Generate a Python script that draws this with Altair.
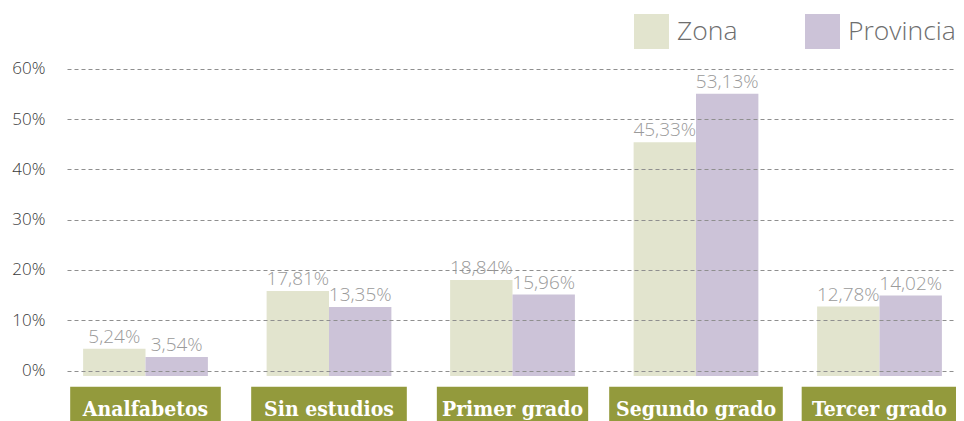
import altair as alt
import pandas as pd

# ---- data ----
categories = ["Analfabetos", "Sin estudios", "Primer grado", "Segundo grado", "Tercer grado"]
series = ["Zona", "Provincia"]
zona_labels = ["5,24%", "17,81%", "18,84%", "45,33%", "12,78%"]
prov_labels = ["3,54%", "13,35%", "15,96%", "53,13%", "14,02%"]
# bar heights as drawn in the picture (percent)
zona_bars = [4.3, 15.8, 18.0, 45.4, 12.7]
prov_bars = [2.7, 12.6, 15.1, 55.0, 14.9]
y_ticks = [0, 10, 20, 30, 40, 50, 60]

# ---- style constants ----
ZONA_C = "#e2e4ce"
PROV_C = "#ccc3d8"
BOX_C = "#939a3c"
BAR_W = 0.34          # bar width in category units
BAR_BASE = -1.1       # bars start slightly below the 0 line
BOX_TOP, BOX_BOTTOM, BOX_TEXT = -3.22, -12.0, -8.99
STEP_PX = 183.5       # pixels per category unit
FONT = "Open Sans"

rows = []
for i, cat in enumerate(categories):
    rows.append(dict(cat=cat, idx=i, serie="Zona", value=zona_bars[i], label=zona_labels[i],
                     x0=i - BAR_W, x1=i, xc=i - BAR_W / 2))
    rows.append(dict(cat=cat, idx=i, serie="Provincia", value=prov_bars[i], label=prov_labels[i],
                     x0=i, x1=i + BAR_W, xc=i + BAR_W / 2))
df = pd.DataFrame(rows)
cats = pd.DataFrame({"cat": categories, "idx": list(range(len(categories)))})

W, H = 889, 413
xscale = alt.Scale(domain=[-78.5 / STEP_PX, (W - 78.5) / STEP_PX], nice=False, zero=False)
yscale = alt.Scale(domain=[-10.04, 72.07], nice=False, zero=False)
yaxis = alt.Axis(values=y_ticks, labelExpr="datum.value + '%'", grid=True, gridDash=[4, 3],
                 gridColor="#8f8f8f", gridWidth=1, domain=False, ticks=False, labelPadding=22,
                 labelFontSize=17, labelFont=FONT, labelFontWeight=300, labelColor="#3a3a3a",
                 title=None, zindex=1)

bars = alt.Chart(df).mark_rect().encode(
    x=alt.X("x0:Q", scale=xscale, axis=None),
    x2="x1:Q",
    y=alt.Y("value:Q", scale=yscale, axis=yaxis),
    y2=alt.Y2Datum(BAR_BASE),
    color=alt.Color("serie:N",
                    scale=alt.Scale(domain=series, range=[ZONA_C, PROV_C]),
                    legend=alt.Legend(orient="none", legendX=567, legendY=6, direction="horizontal",
                                      title=None, symbolType="square", symbolSize=1225,
                                      symbolStrokeWidth=0, symbolOpacity=1, labelFontSize=26.5,
                                      labelFont=FONT, labelFontWeight=300, labelColor="#6e6e6e",
                                      labelOffset=8, columnPadding=67, padding=0)),
)

labels = alt.Chart(df).mark_text(baseline="alphabetic", dy=-6, fontSize=19, font=FONT,
                                 fontWeight=300, color="#9a9a9a").encode(
    x=alt.X("xc:Q", scale=xscale, axis=None),
    y=alt.Y("value:Q", scale=yscale, axis=yaxis),
    text="label:N",
)

# box width estimated from the label text (narrow letters count less)
narrow = "(length(datum.cat) - length(replace(datum.cat, regexp('[iltfr ]', 'g'), '')))"
wide = "length(replace(datum.cat, regexp('[iltfr ]', 'g'), ''))"
half = "(%s * 9.33 + %s * 5 + 61) / 2 / %f" % (wide, narrow, STEP_PX)

boxes = alt.Chart(cats).transform_calculate(
    bx0="datum.idx - " + half,
    bx1="datum.idx + " + half,
).mark_rect(color=BOX_C).encode(
    x=alt.X("bx0:Q", scale=xscale, axis=None),
    x2="bx1:Q",
    y=alt.YDatum(BOX_TOP, scale=yscale, axis=yaxis),
    y2=alt.Y2Datum(BOX_BOTTOM),
)

box_text = alt.Chart(cats).mark_text(baseline="alphabetic", fontSize=21, font="DejaVu Serif Condensed",
                                     fontWeight="bold", color="white").encode(
    x=alt.X("idx:Q", scale=xscale, axis=None),
    y=alt.YDatum(BOX_TEXT, scale=yscale, axis=yaxis),
    text="cat:N",
)

chart = alt.layer(bars, labels, boxes, box_text).properties(
    width=W, height=H,
    autosize=alt.AutoSizeParams(type="none"),
    padding={"left": 59, "top": 0, "right": 0, "bottom": 0},
    background="white",
).configure_view(stroke=None)

chart.save("out.html", embed_options={"renderer": "svg", "actions": False})
